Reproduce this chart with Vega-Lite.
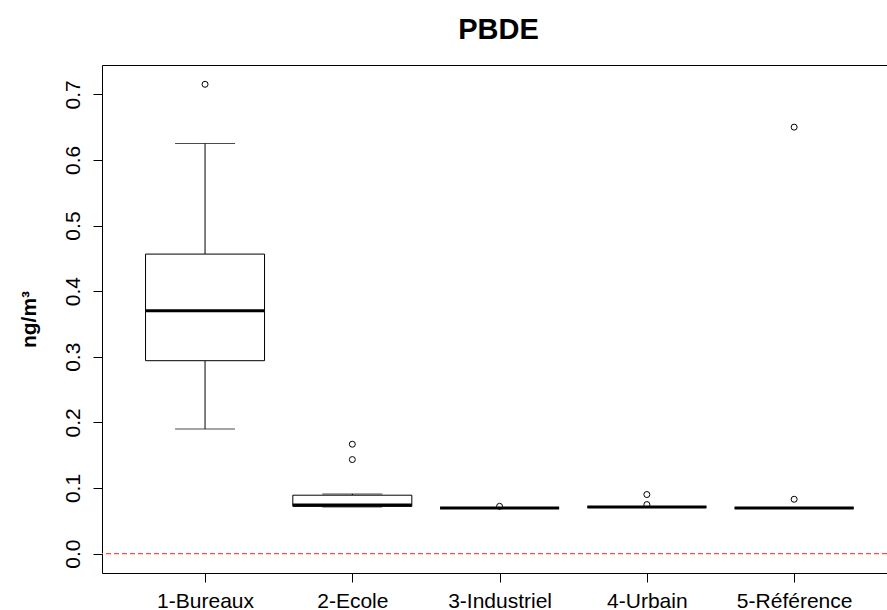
{
  "$schema": "https://vega.github.io/schema/vega-lite/v6.json",
  "autosize": "none",
  "width": 785,
  "height": 508,
  "padding": {"left": 102, "top": 65, "right": 0, "bottom": 37},
  "background": "white",
  "title": {
    "text": "PBDE",
    "fontSize": 29,
    "fontWeight": "bold",
    "font": "Liberation Sans",
    "color": "black",
    "anchor": "middle",
    "baseline": "alphabetic",
    "offset": -3,
    "dx": 4
  },
  "datasets": {
    "stats": [
      {"site": "1-Bureaux", "lower": 0.190, "q1": 0.294, "median": 0.370, "q3": 0.4565, "upper": 0.625},
      {"site": "2-Ecole", "lower": 0.071, "q1": 0.072, "median": 0.074, "q3": 0.089, "upper": 0.091},
      {"site": "3-Industriel", "lower": 0.0696, "q1": 0.0696, "median": 0.0696, "q3": 0.0696, "upper": 0.0696},
      {"site": "4-Urbain", "lower": 0.0711, "q1": 0.0711, "median": 0.0711, "q3": 0.0711, "upper": 0.0711},
      {"site": "5-Référence", "lower": 0.0696, "q1": 0.0696, "median": 0.0696, "q3": 0.0696, "upper": 0.0696}
    ],
    "outliers": [
      {"site": "1-Bureaux", "value": 0.7153},
      {"site": "2-Ecole", "value": 0.1667},
      {"site": "2-Ecole", "value": 0.1433},
      {"site": "3-Industriel", "value": 0.072},
      {"site": "4-Urbain", "value": 0.090},
      {"site": "4-Urbain", "value": 0.0747},
      {"site": "5-Référence", "value": 0.650},
      {"site": "5-Référence", "value": 0.0828}
    ],
    "baseline": [{"level": 0}]
  },
  "resolve": {"axis": {"x": "independent"}},
  "layer": [
    {
      "data": {"name": "stats"},
      "mark": {"type": "rule", "color": "black", "strokeWidth": 1},
      "encoding": {
        "x": {"field": "site", "type": "nominal", "title": null,
              "scale": {"type": "point", "padding": 0.665, "align": 0.526},
              "axis": {"orient": "bottom", "labelAngle": 0}},
        "y": {"field": "lower", "type": "quantitative", "title": "ng/m³",
              "scale": {"domain": [-0.0296, 0.7447], "nice": false, "zero": false},
              "axis": {"values": [0, 0.1, 0.2, 0.3, 0.4, 0.5, 0.6, 0.7], "format": ".1f"}},
        "y2": {"field": "q1"}
      }
    },
    {
      "data": {"name": "stats"},
      "mark": {"type": "rule", "color": "black", "strokeWidth": 1},
      "encoding": {
        "x": {"field": "site", "type": "nominal", "title": null, "axis": null},
        "y": {"field": "q3", "type": "quantitative", "title": "ng/m³"},
        "y2": {"field": "upper"}
      }
    },
    {
      "data": {"name": "stats"},
      "mark": {"type": "tick", "color": "black", "size": 60, "thickness": 1},
      "encoding": {
        "x": {"field": "site", "type": "nominal", "title": null, "axis": null},
        "y": {"field": "lower", "type": "quantitative", "title": "ng/m³"}
      }
    },
    {
      "data": {"name": "stats"},
      "mark": {"type": "tick", "color": "black", "size": 60, "thickness": 1},
      "encoding": {
        "x": {"field": "site", "type": "nominal", "title": null, "axis": null},
        "y": {"field": "upper", "type": "quantitative", "title": "ng/m³"}
      }
    },
    {
      "data": {"name": "stats"},
      "mark": {"type": "bar", "fill": "white", "stroke": "black", "strokeWidth": 1, "width": 119},
      "encoding": {
        "x": {"field": "site", "type": "nominal", "title": null, "axis": null},
        "y": {"field": "q1", "type": "quantitative", "title": "ng/m³"},
        "y2": {"field": "q3"}
      }
    },
    {
      "data": {"name": "stats"},
      "mark": {"type": "tick", "color": "black", "size": 119, "thickness": 3, "opacity": 1},
      "encoding": {
        "x": {"field": "site", "type": "nominal", "title": null, "axis": null},
        "y": {"field": "median", "type": "quantitative", "title": "ng/m³"}
      }
    },
    {
      "data": {"name": "outliers"},
      "mark": {"type": "point", "shape": "circle", "filled": false, "stroke": "black", "strokeWidth": 1, "size": 36, "opacity": 1},
      "encoding": {
        "x": {"field": "site", "type": "nominal", "title": null,
              "axis": {"orient": "top", "labels": false, "ticks": false, "domain": true}},
        "y": {"field": "value", "type": "quantitative", "title": "ng/m³"}
      }
    },
    {
      "data": {"name": "baseline"},
      "mark": {"type": "rule", "strokeWidth": 1.2, "strokeDash": [5, 3], "opacity": 1},
      "encoding": {
        "y": {"field": "level", "type": "quantitative", "title": "ng/m³"},
        "color": {"value": "#ff4a4a"}
      }
    }
  ],
  "config": {
    "font": "Liberation Sans",
    "view": {"stroke": null},
    "axis": {
      "grid": false,
      "domainColor": "black",
      "domainWidth": 1,
      "tickColor": "black",
      "tickWidth": 1,
      "tickSize": 9,
      "labelColor": "black",
      "labelFont": "Liberation Sans",
      "labelFontSize": 21,
      "titleColor": "black"
    },
    "axisX": {
      "labelPadding": 8,
      "labelBaseline": "top",
      "labelFlush": false,
      "labelOverlap": false
    },
    "axisY": {
      "labelAngle": 270,
      "labelAlign": "center",
      "labelBaseline": "alphabetic",
      "labelPadding": 14,
      "labelFlush": false,
      "labelOverlap": false,
      "titleFont": "Liberation Sans",
      "titleFontSize": 21,
      "titleFontWeight": "bold",
      "titleAngle": 270,
      "titleAlign": "center",
      "titleBaseline": "alphabetic",
      "titleX": -67,
      "titleY": 254
    }
  }
}
